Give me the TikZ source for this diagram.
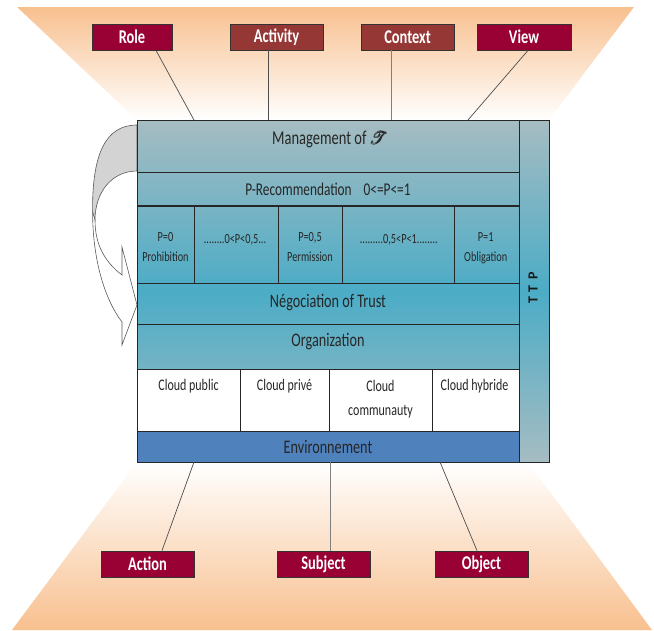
\documentclass[tikz,border=0pt]{standalone}
\usepackage{fontspec}
\usepackage{mathrsfs}
\usepackage{amsmath}
\setmainfont{Carlito}
\newfontfamily\tallfont[FakeStretch=0.74]{Carlito}

\definecolor{peach}{HTML}{F8C08F}
\definecolor{crimson}{HTML}{990033}
\definecolor{brick}{HTML}{953735}
\definecolor{slate}{HTML}{A6BCC2}
\definecolor{teal}{HTML}{4BACC6}
\definecolor{envblue}{HTML}{4F81BD}
\definecolor{rulecol}{HTML}{262626}
\definecolor{wirecol}{HTML}{4D4D4D}
\definecolor{tailgrey}{HTML}{D3D3D3}
\definecolor{tailline}{HTML}{5A5A5A}

\begin{document}
\begin{tikzpicture}[x=1pt,y=-1pt,
  tag/.style={draw=black!80, line width=0.8pt, minimum height=26pt, inner sep=0pt,
    text=white, font=\tallfont\bfseries\fontsize{19.5}{20}\selectfont},
  hot/.style={tag, fill=crimson},
  warm/.style={tag, fill=brick},
  layer/.style={draw=rulecol, line width=0.8pt, inner sep=0pt, outer sep=0pt},
  cloudcell/.style={layer, fill=white},
  wire/.style={draw=wirecol, line width=0.7pt},
  rowtext/.style={inner sep=0pt, text=black!85, font=\tallfont\fontsize{19.2}{21}\selectfont},
  celltext/.style={inner sep=0pt, align=center, text=black!85, font=\tallfont\fontsize{13.9}{19.5}\selectfont},
  cloudtext/.style={inner sep=0pt, align=center, text=black!85, font=\tallfont\fontsize{16.2}{24}\selectfont},
  tailpart/.style={draw=tailline, line width=0.6pt, line join=miter}
]
\useasboundingbox (0,0) rectangle (654,630);

% funnels above and below the stack
\shade[top color=peach, bottom color=white] (17,7) -- (634,7) -- (549,120) -- (137,120) -- cycle;
\shade[top color=white, bottom color=peach] (137,462) -- (528,462) -- (652,630) -- (12,630) -- cycle;

% curved feedback arrow on the left
\draw[tailpart, fill=tailgrey] (137,125) .. controls (105,125) and (92,155) .. (92.6,212)
  -- (95,220) .. controls (95,192) and (112,171) .. (137,171) -- cycle;
\draw[tailpart, fill=white] (92.6,212) .. controls (92.6,260) and (105,300) .. (122,322)
  -- (122,345) -- (137,305) -- (122,247) -- (122,275)
  .. controls (105,262) and (95,245) .. (95,220) -- cycle;

% shaded body of the stack and the TTP column
\shade[top color=slate, bottom color=slate, middle color=teal] (137,120) rectangle (519,462);
\node[layer, minimum width=30pt, minimum height=342pt,
      top color=slate, bottom color=slate, middle color=teal] (ttp) at (534,291) {};
\node[inner sep=0pt, rotate=90, text=black!90, font=\bfseries\fontsize{14}{14}\selectfont] (ttplabel)
  at (533,288) {T\hspace{4pt}T\hspace{6pt}P};

% layers
\node[layer, minimum width=382pt, minimum height=52pt] (mgmt) at (328,146) {};
\node[rowtext, font=\tallfont\fontsize{19.6}{21}\selectfont] (mgmtlabel) at (330,139)
  {Management of {\fontsize{16}{16}\selectfont$\pmb{\mathscr{T}}$}};

\node[layer, minimum width=382pt, minimum height=34pt] (prec) at (328,189) {};
\node[rowtext, font=\tallfont\fontsize{18}{21}\selectfont] (preclabel) at (328,189) {P-Recommendation\hspace{12pt}0<=P<=1};
\draw[rulecol, line width=2pt] (prec.south west) -- (prec.south east);

\node[layer, minimum width=57pt, minimum height=77pt] (pc1) at (165.5,244.5) {};
\node[layer, minimum width=84pt, minimum height=77pt] (pc2) at (236,244.5) {};
\node[layer, minimum width=64pt, minimum height=77pt] (pc3) at (310,244.5) {};
\node[layer, minimum width=112pt, minimum height=77pt] (pc4) at (398,244.5) {};
\node[layer, minimum width=65pt, minimum height=77pt] (pc5) at (486.5,244.5) {};
\node[celltext, anchor=north] (pc1t) at (165.5,232.5) {P=0\\Prohibition};
\node[celltext, anchor=base] (pc2t) at (235,243) {........0<P<0,5...};
\node[celltext, anchor=north] (pc3t) at (310,232.5) {P=0,5\\Permission};
\node[celltext, anchor=base] (pc4t) at (398.8,243) {.........0,5<P<1........};
\node[celltext, anchor=north] (pc5t) at (485.7,232.5) {P=1\\Obligation};

\node[layer, minimum width=382pt, minimum height=41pt] (nego) at (328,303.5) {};
\node[rowtext] (negolabel) at (328,303) {Négociation of Trust};

\node[layer, minimum width=382pt, minimum height=45pt] (org) at (328,346.5) {};
\node[rowtext] (orglabel) at (328,342) {Organization};

\node[cloudcell, minimum width=103pt, minimum height=62pt] (cpub) at (188.5,400) {};
\node[cloudcell, minimum width=89pt, minimum height=62pt] (cpriv) at (284.5,400) {};
\node[cloudcell, minimum width=103pt, minimum height=62pt] (ccomm) at (380.5,400) {};
\node[cloudcell, minimum width=87pt, minimum height=62pt] (chyb) at (475.5,400) {};
\node[cloudtext, anchor=base] (cpubt) at (188.5,390) {Cloud public};
\node[cloudtext, anchor=base] (cprivt) at (284.5,390) {Cloud privé};
\node[cloudtext, anchor=north] (ccommt) at (380.5,380) {Cloud\\communauty};
\node[cloudtext, anchor=base] (chybt) at (474.5,390) {Cloud hybride};

\node[layer, fill=envblue, minimum width=382pt, minimum height=31pt] (env) at (328,446.5) {};
\node[rowtext] (envlabel) at (328,446.5) {Environnement};

% labels above
\node[hot, minimum width=80pt] (role) at (132,37) {Role};
\node[warm, minimum width=93pt] (activity) at (276.5,37) {Activity};
\node[warm, minimum width=93pt] (context) at (407.5,37) {Context};
\node[hot, minimum width=94pt] (view) at (524,37) {View};

% labels below
\node[hot, minimum width=93pt] (action) at (147.5,564) {Action};
\node[hot, minimum width=93pt] (subject) at (323.5,564) {Subject};
\node[hot, minimum width=93pt] (object) at (481.5,564) {Object};

% connectors
\draw[wire] ([xshift=24pt]role.south) -- ([xshift=-134pt]mgmt.north);
\draw[wire] ([xshift=-8.5pt]activity.south) -- ([xshift=-60pt]mgmt.north);
\draw[wire, draw=gray] ([xshift=-16.5pt]context.south) -- ([xshift=63pt]mgmt.north);
\draw[wire] ([xshift=4pt]view.south) -- ([xshift=140pt]mgmt.north);
\draw[wire] ([xshift=14.5pt]action.north) -- ([xshift=-134pt]env.south);
\draw[wire, draw=gray] ([xshift=6.5pt]subject.north) -- ([xshift=2pt]env.south);
\draw[wire] ([xshift=-4.5pt]object.north) -- ([xshift=112pt]env.south);
\end{tikzpicture}
\end{document}
